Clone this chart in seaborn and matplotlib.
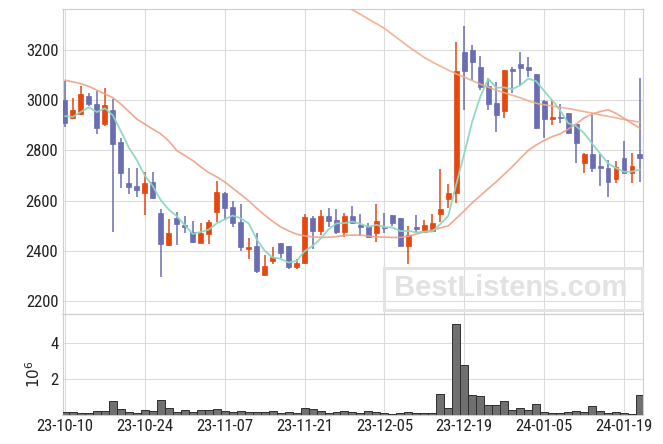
import numpy as np
import pandas as pd
import matplotlib
matplotlib.use("Agg")
import matplotlib.pyplot as plt
from matplotlib import font_manager as fm
from matplotlib.patches import Rectangle
import seaborn as sns

# ---------------- data ----------------
dates = [
    "2023-10-10", "2023-10-11", "2023-10-12", "2023-10-13", "2023-10-16", "2023-10-17", "2023-10-18",
    "2023-10-19", "2023-10-20", "2023-10-23", "2023-10-24", "2023-10-25", "2023-10-26", "2023-10-27",
    "2023-10-30", "2023-10-31", "2023-11-01", "2023-11-02", "2023-11-03", "2023-11-06", "2023-11-07",
    "2023-11-08", "2023-11-09", "2023-11-10", "2023-11-13", "2023-11-14", "2023-11-15", "2023-11-16",
    "2023-11-17", "2023-11-20", "2023-11-21", "2023-11-22", "2023-11-23", "2023-11-24", "2023-11-27",
    "2023-11-28", "2023-11-29", "2023-11-30", "2023-12-01", "2023-12-04", "2023-12-05", "2023-12-06",
    "2023-12-07", "2023-12-08", "2023-12-11", "2023-12-12", "2023-12-13", "2023-12-14", "2023-12-15",
    "2023-12-18", "2023-12-19", "2023-12-20", "2023-12-21", "2023-12-22", "2023-12-26", "2023-12-27",
    "2023-12-28", "2024-01-02", "2024-01-03", "2024-01-04", "2024-01-05", "2024-01-08", "2024-01-09",
    "2024-01-10", "2024-01-11", "2024-01-12", "2024-01-15", "2024-01-16", "2024-01-17", "2024-01-18",
    "2024-01-19", "2024-01-22", "2024-01-23",
]

opens = [3001, 2928, 2944, 3016, 2984, 2906, 2961, 2832, 2670, 2658,
         2631, 2674, 2551, 2422, 2531, 2503, 2475, 2432, 2468, 2556,
         2630, 2575, 2515, 2408, 2419, 2306, 2362, 2430, 2418, 2337,
         2353, 2530, 2480, 2539, 2522, 2476, 2539, 2503, 2499, 2470,
         2495, 2543, 2530, 2420, 2495, 2476, 2479, 2548, 2605, 2629,
         3192, 3200, 3132, 3057, 2989, 2958, 3124, 3144, 3132, 3104,
         2998, 2925, 2933, 2948, 2905, 2749, 2786, 2739, 2730, 2685,
         2769, 2709, 2788]
highs = [3076, 3008, 3058, 3027, 3038, 3047, 3005, 2848, 2729, 2729,
         2713, 2713, 2568, 2529, 2557, 2541, 2521, 2510, 2523, 2678,
         2635, 2597, 2589, 2450, 2470, 2383, 2416, 2432, 2420, 2370,
         2548, 2541, 2563, 2573, 2569, 2552, 2578, 2549, 2512, 2589,
         2552, 2545, 2532, 2500, 2543, 2523, 2549, 2725, 2665, 3233,
         3296, 3219, 3176, 3087, 3074, 3122, 3133, 3191, 3171, 3106,
         3000, 3001, 2984, 2950, 2907, 2791, 2941, 2786, 2762, 2759,
         2839, 2792, 3087]
lows = [2892, 2925, 2941, 2977, 2865, 2898, 2474, 2649, 2625, 2613,
        2543, 2606, 2298, 2419, 2422, 2471, 2431, 2430, 2428, 2516,
        2523, 2496, 2400, 2367, 2314, 2301, 2347, 2373, 2330, 2329,
        2350, 2408, 2463, 2496, 2467, 2456, 2510, 2459, 2454, 2435,
        2470, 2499, 2418, 2347, 2474, 2474, 2478, 2516, 2573, 2592,
        2961, 3080, 3041, 2961, 2872, 2928, 3027, 3061, 3094, 2884,
        2848, 2900, 2908, 2866, 2749, 2709, 2715, 2659, 2616, 2669,
        2707, 2669, 2673]
closes = [2908, 2961, 3025, 2984, 2888, 2980, 2824, 2709, 2655, 2643,
          2670, 2612, 2428, 2471, 2508, 2495, 2436, 2471, 2515, 2634,
          2572, 2512, 2416, 2415, 2321, 2339, 2378, 2392, 2338, 2354,
          2535, 2480, 2539, 2520, 2475, 2539, 2512, 2496, 2456, 2518,
          2491, 2510, 2420, 2463, 2488, 2503, 2511, 2569, 2629, 3116,
          3115, 3153, 3054, 2986, 2942, 3120, 3118, 3129, 3122, 2890,
          2926, 2933, 2930, 2868, 2828, 2786, 2729, 2729, 2673, 2733,
          2709, 2738, 2769]

# volume, millions of shares
volume_m = [0.22, 0.22, 0.16, 0.16, 0.29, 0.29, 0.83, 0.39, 0.22, 0.16,
            0.34, 0.29, 0.88, 0.45, 0.22, 0.34, 0.22, 0.34, 0.34, 0.39,
            0.29, 0.22, 0.29, 0.22, 0.22, 0.22, 0.29, 0.16, 0.22, 0.16,
            0.45, 0.39, 0.29, 0.16, 0.22, 0.29, 0.22, 0.16, 0.29, 0.22,
            0.16, 0.11, 0.16, 0.22, 0.16, 0.16, 0.16, 1.19, 0.43, 5.03,
            2.76, 1.14, 1.08, 0.59, 0.59, 0.81, 0.34, 0.43, 0.34, 0.65,
            0.22, 0.16, 0.16, 0.22, 0.29, 0.22, 0.54, 0.29, 0.16, 0.22,
            0.16, 0.11, 1.14]

# moving averages
ma_short = [2937, 2934, 2954, 2972, 2953, 2968, 2940, 2877, 2811, 2762,
            2700, 2658, 2602, 2565, 2538, 2503, 2468, 2476, 2485, 2510,
            2526, 2541, 2530, 2510, 2447, 2401, 2374, 2369, 2354, 2360,
            2399, 2420, 2449, 2486, 2510, 2511, 2517, 2508, 2496, 2504,
            2495, 2494, 2479, 2480, 2474, 2477, 2477, 2507, 2540, 2666,
            2788, 2916, 3013, 3085, 3050, 3051, 3044, 3059, 3086, 3076,
            3037, 3000, 2960, 2909, 2897, 2869, 2828, 2788, 2749, 2730,
            2715, 2716, 2724]
ma_mid = [3080, 3073, 3066, 3055, 3040, 3025, 3010, 2985, 2955, 2925,
          2905, 2885, 2866, 2838, 2800, 2780, 2760, 2735, 2712, 2695,
          2675, 2650, 2625, 2600, 2570, 2543, 2518, 2496, 2480, 2467,
          2460, 2456, 2454, 2455, 2457, 2462, 2463, 2463, 2460, 2456,
          2455, 2454, 2454, 2458, 2468, 2476, 2483, 2492, 2500, 2530,
          2560, 2592, 2620, 2648, 2675, 2705, 2735, 2768, 2800, 2822,
          2840, 2855, 2866, 2885, 2905, 2930, 2945, 2955, 2962, 2948,
          2928, 2908, 2888]
ma_long = [None] * 33 + [
    3420, 3400, 3378, 3360, 3342, 3323, 3305,
    3286, 3262, 3238, 3214, 3192, 3170, 3152, 3136, 3120, 3105,
    3092, 3078, 3064, 3052, 3040, 3030, 3020, 3010, 2998, 2988,
    2982, 2977, 2972, 2967, 2961, 2955, 2949, 2942, 2936, 2930,
    2923, 2918, 2913]

y_ticks = [2200, 2400, 2600, 2800, 3000, 3200]
vol_ticks = [2, 4]

# ---------------- frame ----------------
df = pd.DataFrame({
    "date": pd.to_datetime(dates),
    "open": opens, "high": highs, "low": lows, "close": closes,
    "vol": volume_m,
    "ma_short": ma_short, "ma_mid": ma_mid,
    "ma_long": pd.Series(ma_long, dtype="float"),
})
df["i"] = np.arange(len(df))
tick_idx = list(range(0, len(df), 10))
tick_labels = [df["date"].iloc[k].strftime("%y-%m-%d") for k in tick_idx]

sns.set_theme(style="white")


# ---- pick a narrow/condensed sans font for tick labels if one is installed ----
def _w(f):
    w = f.weight
    if isinstance(w, str):
        w = fm.weight_dict.get(w.lower(), 400)
    return w


entries = fm.fontManager.ttflist
names = {f.name for f in entries}
tick_family, tick_stretch, tick_size = None, "normal", 12
for cand in ["Liberation Sans Narrow", "Arial Narrow", "Roboto Condensed",
             "Noto Sans Condensed", "Open Sans Condensed", "DejaVu Sans Condensed"]:
    if cand in names:
        tick_family = cand
        break
if tick_family is None:
    conds = [f for f in entries
             if str(f.stretch) in ("condensed", "semi-condensed", "extra-condensed")
             and _w(f) == 400 and f.style == "normal"
             and "mono" not in f.name.lower() and "serif" not in f.name.lower()]
    order = ["Liberation Sans", "Roboto", "Noto Sans", "Open Sans", "DejaVu Sans", "Lato", "Inter"]
    conds.sort(key=lambda f: order.index(f.name) if f.name in order else 99)
    if conds:
        tick_family, tick_stretch = conds[0].name, conds[0].stretch
if tick_family is None:
    tick_family, tick_size = "DejaVu Sans", 9.5

plt.rcParams["font.family"] = [tick_family, "DejaVu Sans"]
plt.rcParams["font.stretch"] = tick_stretch

UP = "#e5470f"
DOWN = "#6a6db1"
GRID = "#dcdcdc"
SPINE = "#cfcfcf"

W, H = 663, 444
fig = plt.figure(figsize=(W / 100, H / 100), dpi=100)
left, right = 62.5, 643.0
top_main, bot_main, bot_vol = 9.3, 314.3, 414.7
ax = fig.add_axes([left / W, 1 - bot_main / H, (right - left) / W, (bot_main - top_main) / H])
axv = fig.add_axes([left / W, 1 - bot_vol / H, (right - left) / W, (bot_vol - bot_main) / H])

# watermark (behind everything)
fig.patches.append(Rectangle((383.5 / W, 1 - 310 / H), (641.5 - 383.5) / W, (310 - 267.5) / H,
                             transform=fig.transFigure, fill=False, edgecolor="#e4e4e4",
                             lw=2.2, zorder=0))
fig.text(511 / W, 1 - 288.5 / H, "BestListens.com", ha="center", va="center",
         fontsize=21, fontweight="bold", family="Liberation Sans", fontstretch="normal",
         color="#e2e2e2", zorder=0)

for a in (ax, axv):
    a.set_facecolor("none")
    a.set_axisbelow(True)
    a.grid(True, color=GRID, lw=0.8)
    for s in a.spines.values():
        s.set_color(SPINE)
        s.set_linewidth(0.8)
    a.tick_params(length=0, labelsize=tick_size, colors="#222222", pad=3)

# candles
up = df["close"] >= df["open"]
cols = np.where(up, UP, DOWN)
ax.vlines(df["i"], df["low"], df["high"], colors=cols, lw=1.1, zorder=3)
body_lo = np.minimum(df["open"], df["close"])
body_h = np.maximum(np.abs(df["close"] - df["open"]), 4)
ax.bar(df["i"], body_h, bottom=body_lo, width=0.62, color=cols, edgecolor=cols, lw=0.5, zorder=4)

# moving averages
sns.lineplot(data=df, x="i", y="ma_long", ax=ax, color="#efad86", lw=1.2, alpha=0.9, zorder=5)
sns.lineplot(data=df, x="i", y="ma_mid", ax=ax, color="#f09f84", lw=1.2, alpha=0.9, zorder=5)
sns.lineplot(data=df, x="i", y="ma_short", ax=ax, color="#8ad8c1", lw=1.3, alpha=0.95, zorder=6)

ax.set_ylim(2148, 3362)
ax.set_yticks(y_ticks)
ax.set_yticklabels([str(v) for v in y_ticks])
ax.set_xlim(-0.31, len(df) - 1 + 0.38)
ax.set_xticks(tick_idx)
ax.set_xticklabels([])
ax.set_xlabel("")
ax.set_ylabel("")

# volume
sns.barplot(data=df, x="i", y="vol", ax=axv, native_scale=True, width=1.0,
            color="#707070", saturation=1, edgecolor="#2e2e2e", linewidth=0.7,
            errorbar=None, zorder=3)
axv.set_ylim(0.086, 5.53)
axv.set_yticks(vol_ticks)
axv.set_yticklabels([str(v) for v in vol_ticks])
axv.set_xlim(-0.31, len(df) - 1 + 0.38)
axv.set_xticks(tick_idx)
axv.set_xticklabels(tick_labels)
axv.set_xlabel("")
axv.set_ylabel("$10^{6}$", fontsize=11, color="#222222", family="DejaVu Sans",
               fontstretch="normal")
axv.yaxis.set_label_coords(-0.034, 0.4)

fig.savefig("out.png", dpi=100)
